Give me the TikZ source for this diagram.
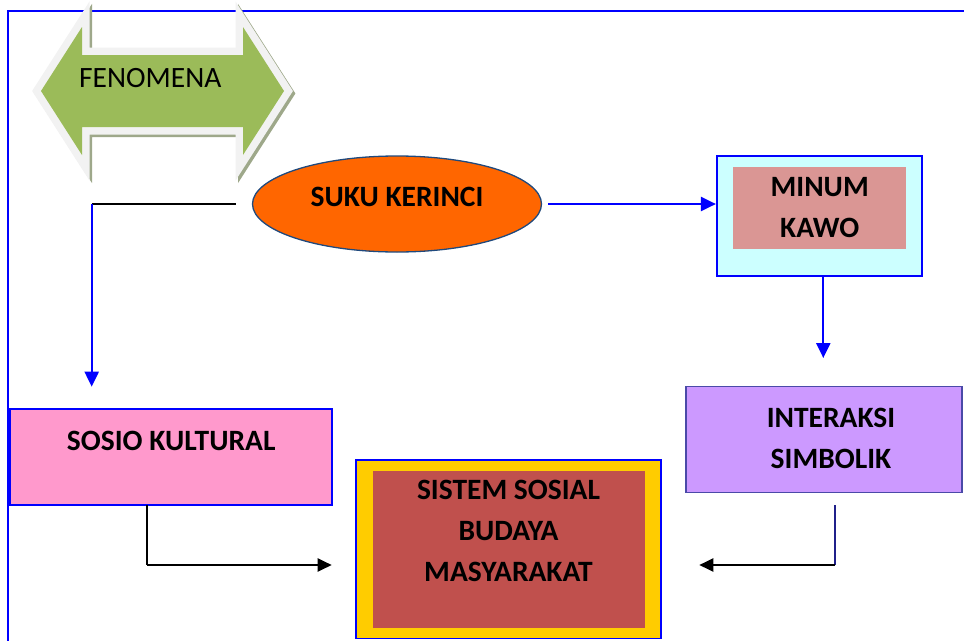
\documentclass[tikz,border=0pt]{standalone}
\usepackage{fontspec}
\setmainfont{Carlito}
\usetikzlibrary{arrows.meta,calc,shapes.geometric}
\definecolor{fblue}{HTML}{0000FF}
\definecolor{fgreen}{HTML}{9BBB59}
\definecolor{fborder}{HTML}{F2F2F2}
\definecolor{fshadow}{RGB}{158,168,138}
\definecolor{forange}{HTML}{FF6600}
\definecolor{fnavy}{HTML}{1F497D}
\definecolor{fcyan}{HTML}{CCFFFF}
\definecolor{fpinkred}{HTML}{DA9694}
\definecolor{fviolet}{HTML}{CC99FF}
\definecolor{fvioletline}{HTML}{4A4AA8}
\definecolor{fgold}{HTML}{FFCC00}
\definecolor{fred}{HTML}{C0504D}
\definecolor{fpink}{HTML}{FF99CC}
\definecolor{fdarkblue}{HTML}{20208A}
\begin{document}
\begin{tikzpicture}[x=1pt,y=-1pt,
  txt/.style={font=\fontsize{29.5}{41}\selectfont\bfseries, inner sep=0pt, align=center, text=black},
  boxshape/.style={rectangle, inner sep=0pt},
  bluearrow/.style={draw=fblue, line width=2.2pt, -{Triangle[length=15pt,width=14pt]}},
  blacklink/.style={draw=black, line width=1.6pt},
  blackarrow/.style={draw=black, line width=2.2pt, -{Triangle[length=14pt,width=13pt]}},
]
\useasboundingbox (0,0) rectangle (964,640);
% frame
\draw[fblue, line width=2pt] (8.3,650) -- (8.3,11) -- (975,11);
% FENOMENA double arrow
\def\fenpath{(41,91) -- (82,27) -- (82,55) -- (243,55) -- (243,27) -- (284,91) -- (243,155) -- (243,127) -- (82,127) -- (82,155) -- cycle}
\begin{scope}[shift={(2.5,2.5)}]
  \filldraw[fshadow, line width=15pt, line join=miter, miter limit=20] \fenpath;
\end{scope}
\filldraw[fborder, line width=15pt, line join=miter, miter limit=20] \fenpath;
\fill[fgreen] \fenpath;
\node[font=\fontsize{29.5}{34}\selectfont, inner sep=0pt, anchor=base west] (fen) at (79,87) {FENOMENA};
% nodes
\node[ellipse, draw=fnavy, line width=1.3pt, fill=forange, minimum width=289pt, minimum height=96pt, inner sep=0pt] (suku) at (397,204) {};
\node[txt] (sukutxt) at (397,197) {SUKU KERINCI};

\node[boxshape, draw=fblue, line width=2pt, fill=fcyan, minimum width=205pt, minimum height=120pt] (minum) at (819.4,216) {};
\node[boxshape, fill=fpinkred, minimum width=173pt, minimum height=82.6pt] (minumin) at (819.5,208) {};
\node[txt, anchor=north] (minumtxt) at (819.7,176.7) {MINUM\\KAWO};

\node[boxshape, draw=fvioletline, line width=1.5pt, fill=fviolet, minimum width=275.7pt, minimum height=106pt] (inter) at (823.9,439.7) {};
\node[txt, anchor=north] (intertxt) at (831,408) {INTERAKSI\\SIMBOLIK};

\node[boxshape, draw=fblue, line width=2pt, fill=fpink, minimum width=322.3pt, minimum height=95.2pt] (sosio) at (171.2,456.9) {};
\node[txt, anchor=north] (sosiotxt) at (171.2,430.5) {SOSIO KULTURAL};

\node[boxshape, draw=fblue, line width=1.5pt, fill=fgold, minimum width=304.7pt, minimum height=178.3pt] (sistem) at (508.4,549.2) {};
\node[boxshape, fill=fred, minimum width=272.3pt, minimum height=156.7pt] (sistemin) at (508.9,549.4) {};
\node[txt, anchor=north] (sistemtxt) at (508.5,480) {SISTEM SOSIAL\\BUDAYA\\MASYARAKAT};

% connectors
\coordinate (a1) at ($(suku.west)+(-16,0)$);
\coordinate (a2) at (91.7,204);
\coordinate (a3) at (91.7,386.7);
\draw[blacklink] (a1) -- (a2);
\draw[bluearrow] (a2) -- (a3);

\coordinate (b1) at ($(suku.east)+(6,0)$);
\draw[bluearrow] (b1) -- (b1 -| minum.west);

\coordinate (c1) at (823.3,276);
\coordinate (c2) at (823.3,358);
\draw[bluearrow] (c1) -- (c2);

\coordinate (d1) at (835,505);
\coordinate (d2) at (835,565);
\coordinate (d3) at (699.3,565);
\draw[fdarkblue, line width=1.8pt] (d1) -- (d2);
\draw[blackarrow] (d2) -- (d3);

\coordinate (e1) at (146.7,504.5);
\coordinate (e2) at (146.7,565);
\coordinate (e3) at (331.7,565);
\draw[draw=black, line width=2.2pt] (e1) -- (e2);
\draw[blackarrow] (e2) -- (e3);
\end{tikzpicture}
\end{document}
